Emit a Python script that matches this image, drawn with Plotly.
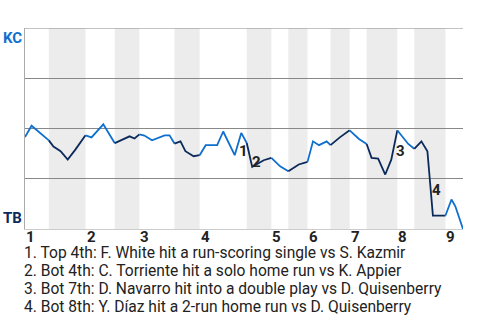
import plotly.graph_objects as go

# plate-appearance index and KC win probability (%)
pa = [0, 1.2, 4.35, 5.2, 6.5, 7.8, 9.2, 11.05, 12.15, 14.3, 16.4, 18.05, 19.1, 20.0, 20.9,
      21.8, 23.2, 24.4, 25.5, 26.4, 27.3, 28.4, 29.3, 30.8, 31.9, 33.0, 35.1, 36.2, 38.3,
      39.5, 40.5, 41.5, 43.6, 45.0, 46.6, 48.1, 50.0, 51.6, 52.6, 53.7, 55.1, 55.8, 57.5,
      59.3, 61.0, 62.4, 63.3, 64.5, 65.8, 66.9, 68.0, 70.0, 71.1, 72.4, 73.5, 74.5, 76.8,
      77.9, 78.6, 80.0]
wp = [45.8, 51.4, 44.1, 41.0, 38.7, 34.5, 39.5, 46.6, 45.6, 52.1, 42.7, 44.8, 46.1, 45.0, 47.1,
      46.5, 44.1, 45.3, 46.6, 46.6, 42.5, 43.6, 38.7, 36.2, 36.7, 41.7, 41.7, 48.5, 36.7,
      47.8, 42.8, 30.9, 34.2, 35.4, 31.2, 28.7, 32.1, 33.4, 43.6, 41.7, 43.6, 41.7, 45.6,
      49.1, 44.8, 42.3, 35.4, 35.0, 27.1, 34.5, 49.1, 42.3, 39.9, 43.6, 38.7, 6.7, 6.7,
      14.7, 11.3, 0.0]

# half-inning boundaries (start of each half, in PA index)
half_starts = [0, 4.35, 11.05, 16.4, 20.9, 27.3, 31.9, 40.5, 45.0, 48.1, 51.6, 55.8,
               59.3, 62.4, 68.0, 71.1, 76.8]
game_end = 80.0
inning_labels = ["1", "2", "3", "4", "5", "6", "7", "8", "9"]

key_labels = ["1", "2", "3", "4"]
key_x = [39.9, 42.3, 68.6, 75.2]
key_y = [39.0, 33.5, 39.0, 19.6]
key_text = [
    "1. Top 4th: F. White hit a run-scoring single vs S. Kazmir",
    "2. Bot 4th: C. Torriente hit a solo home run vs K. Appier",
    "3. Bot 7th: D. Navarro hit into a double play vs D. Quisenberry",
    "4. Bot 8th: Y. Díaz hit a 2-run home run vs D. Quisenberry",
]

BLUE = "#0f6fce"
NAVY = "#0b2a5b"
FONT = "Roboto"

fig = go.Figure()

bounds = half_starts + [game_end]
shapes = []
for i in range(len(half_starts)):
    a, b = bounds[i], bounds[i + 1]
    if i % 2 == 1:
        shapes.append(dict(type="rect", xref="x", yref="y", x0=a, x1=b, y0=0, y1=100,
                           fillcolor="#ececec", line_width=0, layer="below"))
    xs = [x for x in pa if a - 1e-9 <= x <= b + 1e-9]
    ys = [wp[pa.index(x)] for x in xs]
    fig.add_trace(go.Scatter(x=xs, y=ys, mode="lines",
                             line=dict(color=BLUE if i % 2 == 0 else NAVY, width=1.8),
                             hoverinfo="skip", showlegend=False))

# top border gridline at 100
shapes.append(dict(type="line", xref="paper", yref="y", x0=0, x1=1, y0=100, y1=100,
                   line=dict(color="#888888", width=1)))

annotations = []
for i, lab in enumerate(inning_labels):
    annotations.append(dict(x=half_starts[2 * i], y=0, xref="x", yref="paper",
                            text="<b>%s</b>" % lab, showarrow=False, xanchor="left",
                            yanchor="top", xshift=-1, yshift=3,
                            font=dict(family=FONT, size=15, color="#222")))
for lab, kx, ky in zip(key_labels, key_x, key_y):
    annotations.append(dict(x=kx, y=ky, xref="x", yref="y", text="<b>%s</b>" % lab,
                            showarrow=False, font=dict(family=FONT, size=15, color="#222")))
for j, t in enumerate(key_text):
    annotations.append(dict(x=0, y=0, xref="paper", yref="paper", text=t, showarrow=False,
                            xanchor="left", yanchor="middle", xshift=-3,
                            yshift=-(24 + 18 * j),
                            font=dict(family=FONT, size=15.6, color="#222")))
annotations.append(dict(x=0, y=1, xref="paper", yref="paper", text="<b>KC</b>",
                        showarrow=False, xanchor="right", yanchor="top", xshift=-1, yshift=1,
                        font=dict(family=FONT, size=15, color=BLUE)))
annotations.append(dict(x=0, y=0, xref="paper", yref="paper", text="<b>TB</b>",
                        showarrow=False, xanchor="right", yanchor="bottom", xshift=-1,
                        font=dict(family=FONT, size=15, color=NAVY)))

fig.update_layout(
    width=480, height=320,
    margin=dict(l=25, r=17, t=28, b=91),
    plot_bgcolor="white", paper_bgcolor="white",
    shapes=shapes, annotations=annotations,
    xaxis=dict(range=[0, game_end], showgrid=False, zeroline=False, showticklabels=False,
               showline=True, linecolor="#cccccc", linewidth=1, fixedrange=True),
    yaxis=dict(range=[0, 100], tickvals=[25, 50, 75], showgrid=True,
               gridcolor="#888888", gridwidth=1, zeroline=False, showticklabels=False,
               showline=True, linecolor="#aaaaaa", linewidth=1, fixedrange=True),
    font=dict(family=FONT),
)

fig.write_html("out.html", config={"displayModeBar": False})
